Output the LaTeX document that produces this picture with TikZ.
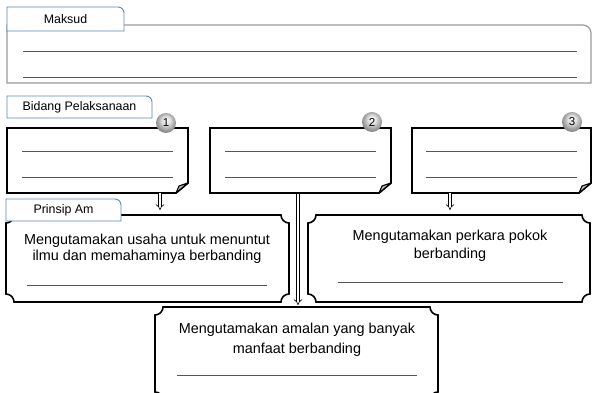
\documentclass[tikz,border=0pt]{standalone}
\usepackage{fontspec}
\setmainfont{Liberation Sans}
\usetikzlibrary{arrows.meta,calc}
\definecolor{tabblue}{HTML}{5B86C0}
\definecolor{mgray}{HTML}{9A9A9A}
\definecolor{wgray}{HTML}{555555}
\pgfdeclareradialshading{mybadgeshade}{\pgfpoint{0bp}{8bp}}{%
  color(0bp)=(white); color(10bp)=(black!12); color(22bp)=(black!38); color(25bp)=(black!45); color(50bp)=(black!45)}
\tikzset{
  frame/.style={draw=none, inner sep=0pt, outer sep=0pt},
  tabshape/.style={draw=tabblue, line width=0.9pt, fill=white},
  tabtext/.style={font=\fontsize{12.4}{14}\selectfont, inner sep=0pt},
  mline/.style={draw=mgray, line width=1.2pt},
  foldline/.style={draw=black, line width=1.8pt, line join=miter, fill=white},
  plaqueline/.style={draw=black, line width=1.6pt, fill=white},
  wline/.style={draw=wgray, line width=0.9pt},
  badge/.style={circle, minimum size=20pt, inner sep=0pt, shading=mybadgeshade, font=\fontsize{11.5}{12}\selectfont},
  maintext/.style={align=center, inner sep=0pt, font=\fontsize{14.4}{17}\selectfont},
  hollowarrow/.style={draw=black, line width=0.6pt, double=white, double distance=2.4pt, -{Implies[length=3pt]}},
}
\newcommand\myfoldbox[1]{%
  \draw[foldline] (#1.north west) -- (#1.north east) -- ([yshift=10]#1.south east)
     -- ([xshift=-12]#1.south east) -- (#1.south west) -- cycle;
  \draw[draw=black, line width=1.1pt, fill=gray!55, line join=round] ([yshift=10]#1.south east)
     -- ([xshift=-9,yshift=7]#1.south east) -- ([xshift=-12]#1.south east) -- cycle;}
\newcommand\myplaque[2]{%
  \draw[plaqueline] ([xshift=#2]#1.north west) -- ([xshift=-#2]#1.north east)
     arc[start angle=180, end angle=270, radius=#2] -- ([yshift=#2]#1.south east)
     arc[start angle=90, end angle=180, radius=#2] -- ([xshift=#2]#1.south west)
     arc[start angle=0, end angle=90, radius=#2] -- ([yshift=-#2]#1.north west)
     arc[start angle=270, end angle=360, radius=#2] -- cycle;}
\newcommand\mytab[2]{%
  \draw[tabshape] (#1.south west) -- (#1.north west) -- ([xshift=-#2]#1.north east)
     arc[start angle=90, end angle=0, radius=#2] -- (#1.south east) -- cycle;}
\begin{document}
\begin{tikzpicture}[x=1pt,y=1pt]
\useasboundingbox (0,0) rectangle (592,393);
\clip (0,0) rectangle (592,393);

% ---- Maksud ----
\node[frame, minimum width=584pt, minimum height=58pt] (mbox) at (299,339) {};
\draw[mline] (mbox.north west) -- ([xshift=-8]mbox.north east)
   arc[start angle=90, end angle=0, radius=8] -- (mbox.south east) -- (mbox.south west) -- cycle;
\draw[wline] (23,342) -- (577,342);
\draw[wline] (23,316) -- (577,316);
\node[frame, minimum width=117pt, minimum height=24pt] (mtab) at (65.5,374) {};
\mytab{mtab}{6}
\node[tabtext] (mtabt) at (mtab.center) {Maksud};

% ---- Bidang Pelaksanaan ----
\node[frame, minimum width=145pt, minimum height=22pt] (btab) at (79.5,286) {};
\mytab{btab}{6}
\node[tabtext] (btabt) at (btab.center) {Bidang Pelaksanaan};

\node[frame, minimum width=181pt, minimum height=65pt] (b1) at (97.5,232.5) {};
\node[frame, minimum width=181pt, minimum height=65pt] (b2) at (300.5,232.5) {};
\node[frame, minimum width=179pt, minimum height=65pt] (b3) at (501.5,232.5) {};
\myfoldbox{b1}
\myfoldbox{b2}
\myfoldbox{b3}
\foreach \xa/\xb in {22/173, 225/376, 426/577}{
  \draw[wline] (\xa,242) -- (\xb,242);
  \draw[wline] (\xa,216) -- (\xb,216);
}
\node[badge] (n1) at (166,270) {1};
\node[badge] (n2) at (372,271) {2};
\node[badge] (n3) at (572,271) {3};

% ---- plaques ----
\node[frame, minimum width=283pt, minimum height=87pt] (p1) at (147.5,134.5) {};
\node[frame, minimum width=282pt, minimum height=87pt] (p2) at (449,134.5) {};
\node[frame, minimum width=283pt, minimum height=93pt] (p3) at (296.5,39.5) {};
\myplaque{p1}{8}
\myplaque{p2}{8}
\myplaque{p3}{8}

% arrows
\coordinate (a1s) at (160,200); \coordinate (a1e) at (160,183);
\coordinate (a3s) at (450,200); \coordinate (a3e) at (450,183);
\coordinate (a2s) at (298,199); \coordinate (a2e) at (298,88);
\draw[hollowarrow] (a1s) -- (a1e);
\draw[hollowarrow] (a3s) -- (a3e);
\draw[hollowarrow] (a2s) -- (a2e);

% Prinsip Am tab
\node[frame, minimum width=115pt, minimum height=22pt] (ptab) at (63.5,183) {};
\mytab{ptab}{6}
\node[tabtext] (ptabt) at (ptab.center) {Prinsip Am};

% texts
\node[maintext, font=\fontsize{14.4}{16.5}\selectfont] (t1) at (147,144) {Mengutamakan usaha untuk menuntut\\ilmu dan memahaminya berbanding};
\draw[wline] (27,108) -- (267,108);
\node[maintext, font=\fontsize{14.4}{18}\selectfont] (t2) at (450,147) {Mengutamakan perkara pokok\\berbanding};
\draw[wline] (338,111) -- (563,111);
\node[maintext, font=\fontsize{14.4}{20}\selectfont] (t3) at (297,53) {Mengutamakan amalan yang banyak\\manfaat berbanding};
\draw[wline] (177,18) -- (417,18);
\end{tikzpicture}
\end{document}
